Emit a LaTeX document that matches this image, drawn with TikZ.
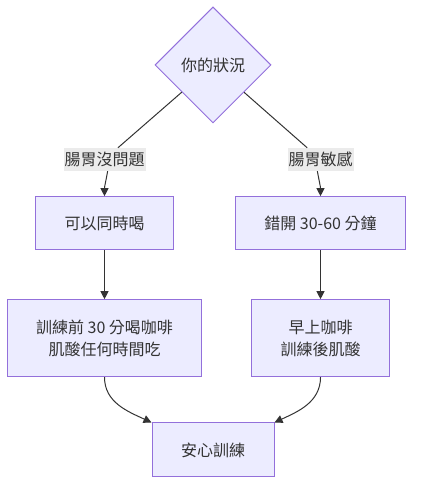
\documentclass[tikz,border=0pt]{standalone}
\usepackage{fontspec}
\setmainfont{Noto Sans CJK TC}
\usepackage{tikz}
\usetikzlibrary{arrows.meta,positioning,shapes.geometric}
\definecolor{NodeFill}{HTML}{ECECFF}
\definecolor{NodeLine}{HTML}{9370DB}
\definecolor{EdgeLine}{HTML}{333333}
\definecolor{LabelBg}{HTML}{EBEBEB}

\begin{document}
\begin{tikzpicture}[
  x=1pt,y=1pt,
  font=\fontsize{16}{22}\selectfont,
  text=EdgeLine,
  box/.style={draw=NodeLine,fill=NodeFill,line width=1pt,align=center,inner sep=0pt},
  decision/.style={diamond,aspect=1,draw=NodeLine,fill=NodeFill,line width=1pt,minimum size=116pt,inner sep=0pt},
  lbl/.style={fill=LabelBg,inner sep=1pt,minimum height=23pt},
  link/.style={line width=1pt,draw=EdgeLine},
  arrow/.style={link,-{Triangle[length=8pt,width=8pt]}}
]
  \useasboundingbox (0,0) rectangle (421,494);

  \node[decision] (q) at (213,429) {你的狀況};
  \node[lbl] (ok) at (104.5,334.5) {腸胃沒問題};
  \node[lbl] (sens) at (320.5,334.5) {腸胃敏感};

  % left column
  \node[box, minimum width=138pt, minimum height=53pt, below=25pt of ok] (same) {可以同時喝};
  \node[box, minimum width=194pt, minimum height=77pt, below=49pt of same] (pre) {訓練前 30 分喝咖啡\\肌酸任何時間吃};

  % right column
  \node[box, minimum width=170pt, minimum height=53pt, below=25pt of sens] (gap) {錯開 30-60 分鐘};
  \node[box, minimum width=138pt, minimum height=77pt, below=49pt of gap] (split) {早上咖啡\\訓練後肌酸};

  \node[box, minimum width=122pt, minimum height=54pt] (safe) at (213,44) {安心訓練};

  \draw[link] (q) -- (ok);
  \draw[link] (q) -- (sens);
  \draw[arrow] (ok.-75) to[out=-100,in=90] (same);
  \draw[arrow] (sens.-105) to[out=-80,in=90] (gap);
  \draw[arrow] (same) -- (pre);
  \draw[arrow] (gap) -- (split);
  \draw[arrow] (pre) to[out=-90,in=155] (safe.north west);
  \draw[arrow] (split) to[out=-90,in=25] (safe.north east);
\end{tikzpicture}
\end{document}
